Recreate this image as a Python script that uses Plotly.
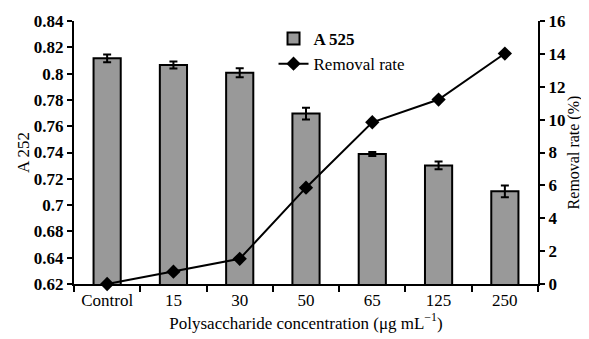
import plotly.graph_objects as go

categories = ["Control", "15", "30", "50", "65", "125", "250"]
a525 = [0.8116, 0.8065, 0.8007, 0.7696, 0.7389, 0.7302, 0.7105]
a525_err = [0.0030, 0.0027, 0.0034, 0.0045, 0.0015, 0.0030, 0.0045]
removal = [0.0, 0.75, 1.53, 5.86, 9.84, 11.22, 14.02]

left_tickvals = [0.64, 0.66, 0.68, 0.70, 0.72, 0.74, 0.76, 0.78, 0.80, 0.82, 0.84]
left_ticktext = ["0.62", "0.64", "0.68", "0.7", "0.72", "0.74", "0.76", "0.78", "0.8", "0.82", "0.84"]
right_tickvals = [0, 2, 4, 6, 8, 10, 12, 14, 16]
right_ticktext = ["0", "2", "4", "6", "8", "10", "12", "14", "16"]

FONT = "Liberation Serif"
BLACK = "#000000"

fig = go.Figure()
fig.add_trace(go.Bar(
    x=categories, y=a525, name="<b>A 525</b>",
    marker=dict(color="#999999", line=dict(color=BLACK, width=2)),
    error_y=dict(type="data", array=a525_err, color=BLACK, thickness=2, width=4),
    yaxis="y",
))
fig.add_trace(go.Scatter(
    x=categories, y=removal, name="Removal rate", mode="lines+markers",
    line=dict(color=BLACK, width=2),
    marker=dict(symbol="diamond", size=11, color=BLACK),
    yaxis="y2", cliponaxis=False,
))

fig.update_layout(
    width=581, height=331,
    margin=dict(l=66, r=51, t=13, b=55),
    plot_bgcolor="white", paper_bgcolor="white",
    font=dict(family=FONT, size=17, color=BLACK),
    bargap=0.59,
    showlegend=True,
    legend=dict(x=0.43, y=1.0, xanchor="left", yanchor="top",
                bgcolor="rgba(0,0,0,0)", font=dict(size=17, family=FONT, color=BLACK),
                tracegroupgap=0, itemwidth=30),
    xaxis=dict(
        type="category", showline=True, linecolor=BLACK, linewidth=2,
        ticks="outside", tickson="boundaries", ticklen=6, tickwidth=2, tickcolor=BLACK,
        tickfont=dict(size=17, family=FONT, color=BLACK),
        title=dict(text="Polysaccharide concentration (μg mL<sup>−1</sup>)",
                   font=dict(size=17, family=FONT, color=BLACK), standoff=2),
        showgrid=False, automargin=False,
    ),
    yaxis=dict(
        range=[0.64, 0.84], tickvals=left_tickvals,
        ticktext=["<b>%s</b>" % t for t in left_ticktext],
        showline=True, linecolor=BLACK, linewidth=2,
        ticks="outside", ticklen=5, tickwidth=2, tickcolor=BLACK,
        tickfont=dict(size=17, family=FONT, color=BLACK),
        title=dict(text="A 252", font=dict(size=17, family=FONT, color=BLACK), standoff=0),
        showgrid=False, zeroline=False, automargin=False,
    ),
    yaxis2=dict(
        range=[0, 16], tickvals=right_tickvals,
        ticktext=["<b>%s</b>" % t for t in right_ticktext],
        overlaying="y", side="right",
        showline=True, linecolor=BLACK, linewidth=2,
        ticks="outside", ticklen=5, tickwidth=2, tickcolor=BLACK,
        tickfont=dict(size=17, family=FONT, color=BLACK),
        title=dict(text="Removal rate (%)", font=dict(size=16, family=FONT, color=BLACK), standoff=0),
        showgrid=False, zeroline=False, automargin=False,
    ),
)

fig.write_html("out.html")
